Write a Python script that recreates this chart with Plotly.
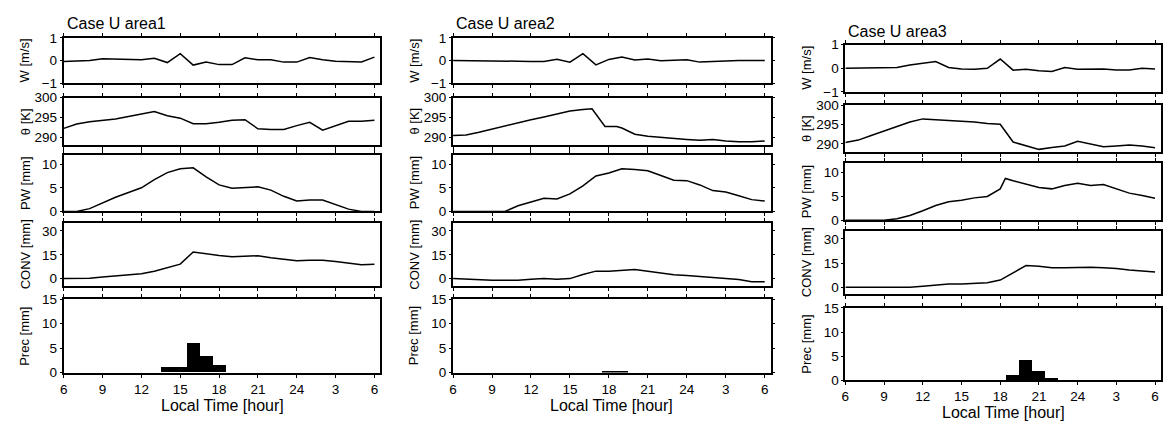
import plotly.graph_objects as go

# ---------------- data ----------------
HOURS = list(range(6, 31))
TICK_VALS = [6, 9, 12, 15, 18, 21, 24, 27, 30]
TICK_TEXT = ["6", "9", "12", "15", "18", "21", "24", "3", "6"]
CASE_TITLES = ["Case U area1", "Case U area2", "Case U area3"]
ROW_TITLES = ["W [m/s]", "θ [K]", "PW [mm]", "CONV [mm]", "Prec [mm]"]

# area1
A1_W = [-0.04, -0.02, 0.0, 0.08, 0.06, 0.04, 0.04, 0.1, -0.09, 0.3, -0.2, -0.07, -0.18,
        -0.18, 0.12, 0.03, 0.03, -0.07, -0.07, 0.13, 0.03, -0.03, -0.06, -0.06, 0.15]
A1_TH = [292.2, 293.3, 293.9, 294.25, 294.6, 295.2, 295.9, 296.5, 295.4, 294.8, 293.4, 293.4,
         293.75, 294.25, 294.4, 292.1, 291.9, 291.9, 292.9, 293.75, 291.75, 292.9, 294.0, 294.0, 294.25]
A1_PW = [0, 0, 0.6, 1.8, 3.0, 4.0, 5.0, 6.7, 8.2, 9.0, 9.2, 7.3, 5.6, 4.9, 5.1, 5.2, 4.5, 3.2,
         2.2, 2.4, 2.4, 1.5, 0.5, 0, 0]
A1_CONV = [0, 0, 0.3, 1.0, 1.6, 2.2, 3.0, 4.7, 6.7, 9.1, 16.8, 15.6, 14.6, 13.8, 14.2, 14.4,
           13.2, 12.2, 11.2, 11.6, 11.6, 10.8, 9.7, 8.7, 9.1]
A1_PREC = [0, 0, 0, 0, 0, 0, 0, 0, 1.1, 1.1, 6.0, 3.3, 1.5, 0, 0, 0, 0, 0, 0, 0, 0, 0, 0, 0, 0]

# area2
A2_W = [0, 0, -0.03, -0.03, -0.03, -0.03, -0.04, -0.04, 0.06, -0.07, 0.3, -0.19, 0.05, 0.16,
        0.02, 0.07, -0.01, 0.01, 0.03, -0.07, -0.04, 0, 0, 0, 0]
A2_TH_T = [6, 7, 8, 9, 10, 11, 12, 13, 14, 15, 16, 16.7, 17.7, 18.6, 19, 20, 21, 22, 23, 24,
           25, 26, 27, 28, 29, 30]
A2_TH = [290.4, 290.5, 291.2, 292.0, 292.9, 293.7, 294.4, 295.1, 295.9, 296.6, 297.0, 297.2,
         292.7, 292.7, 292.3, 290.7, 290.2, 289.9, 289.6, 289.4, 289.2, 289.4, 289.0, 288.8, 288.8, 289.0]
A2_PW = [0, 0, 0, 0, 0, 1.2, 2.0, 2.8, 2.65, 3.7, 5.4, 7.5, 8.1, 9.0, 8.85, 8.6, 7.6, 6.6, 6.5,
         5.6, 4.4, 4.1, 3.3, 2.5, 2.2]
A2_CONV = [0, -0.4, -1, -1, -1, -1, -0.4, 0, -0.4, 0, 2.6, 4.7, 4.7, 5.1, 5.7, 4.7, 3.4, 2.4,
           2.0, 1.4, 0.6, 0, -0.6, -2, -2]
A2_PREC = [0, 0, 0, 0, 0, 0, 0, 0, 0, 0, 0, 0, 0.3, 0.15, 0, 0, 0, 0, 0, 0, 0, 0, 0, 0, 0]

# area3
A3_W = [0, 0, 0, 0, 0.03, 0.14, 0.2, 0.28, 0.03, -0.03, -0.04, 0, 0.39, -0.08, -0.04, -0.11,
        -0.14, 0.03, -0.04, -0.03, -0.03, -0.07, -0.07, 0, -0.03]
A3_TH = [290.4, 291.0, 292.2, 293.4, 294.7, 295.7, 296.5, 296.3, 296.1, 295.9, 295.7, 295.3,
         295.1, 290.5, 289.5, 288.6, 289.1, 289.5, 290.7, 290.1, 289.3, 289.5, 289.7, 289.5, 289.05]
A3_PW_T = [6, 7, 8, 9, 10, 11, 12, 13, 14, 15, 16, 17, 18, 18.4, 19, 20, 21, 22, 23, 24, 25,
           26, 27, 28, 29, 30]
A3_PW = [0, 0, 0, 0, 0.3, 1.0, 2.0, 3.1, 3.9, 4.2, 4.7, 5.0, 6.6, 8.8, 8.3, 7.6, 6.9, 6.6, 7.3,
         7.8, 7.3, 7.5, 6.6, 5.7, 5.2, 4.6]
A3_CONV = [0, 0, 0, 0, 0, 0, 0.6, 1.4, 2.0, 2.0, 2.4, 2.8, 4.4, 9.0, 13.4, 13.0, 12.0, 12.0,
           12.4, 12.4, 12.0, 11.6, 10.6, 10.0, 9.4]
A3_PREC = [0, 0, 0, 0, 0, 0, 0, 0, 0, 0, 0, 0, 0, 1.1, 4.3, 1.9, 0.5, 0, 0, 0, 0, 0, 0, 0, 0]

COLUMNS = [
    [(HOURS, A1_W), (HOURS, A1_TH), (HOURS, A1_PW), (HOURS, A1_CONV), (HOURS, A1_PREC)],
    [(HOURS, A2_W), (A2_TH_T, A2_TH), (HOURS, A2_PW), (HOURS, A2_CONV), (HOURS, A2_PREC)],
    [(HOURS, A3_W), (HOURS, A3_TH), (A3_PW_T, A3_PW), (HOURS, A3_CONV), (HOURS, A3_PREC)],
]

# ---------------- layout geometry (pixels) ----------------
W, H = 1163, 423
COL_X = [(60, 378), (451, 770), (845, 1162)]
ROWS_Y = [
    [(32, 79), (94, 143), (153, 212), (224, 289), (303, 379)],
    [(32, 79), (94, 143), (153, 212), (224, 289), (303, 379)],
    [(39, 88), (102, 150), (162, 221), (232, 298), (312, 387)],
]
TITLE_Y = [17, 17, 25]
XTITLE_Y = [413, 413, 420]
Y_RANGES = [[-1, 1], [288, 300], [0, 12], [-4.5, 35], [0, 15]]
Y_TICKS = [[-1, 0, 1], [290, 295, 300], [0, 5, 10], [0, 15, 30], [0, 5, 10, 15]]
X_RANGE = [6, 30.46]

FONT = "Liberation Sans, Arial, Helvetica, sans-serif"
TICK_FONT = dict(size=13.5, family=FONT, color="black")

fig = go.Figure()
layout = dict(
    width=W, height=H, margin=dict(l=0, r=0, t=0, b=0),
    paper_bgcolor="white", plot_bgcolor="white", showlegend=False,
    font=dict(family=FONT, color="black", size=13),
)
annotations = []

for c in range(3):
    x0, x1 = COL_X[c]
    for r in range(5):
        i = c * 5 + r + 1
        xs, ys = COLUMNS[c][r]
        y0, y1 = ROWS_Y[c][r]
        xa = "x" if i == 1 else f"x{i}"
        ya = "y" if i == 1 else f"y{i}"
        if r == 4:
            fig.add_trace(go.Bar(x=xs, y=ys, width=1, marker=dict(color="black", line=dict(width=0)),
                                 xaxis=xa, yaxis=ya))
        else:
            fig.add_trace(go.Scatter(x=xs, y=ys, mode="lines", line=dict(color="black", width=1.5),
                                     xaxis=xa, yaxis=ya))
        key = "" if i == 1 else str(i)
        layout["xaxis" + key] = dict(
            domain=[x0 / W, x1 / W], range=X_RANGE, anchor=ya,
            tickmode="array", tickvals=TICK_VALS, ticktext=TICK_TEXT,
            showticklabels=(r == 4), ticks="outside", ticklen=3, tickwidth=1, tickcolor="black",
            mirror="ticks", showline=True, linewidth=2, linecolor="black",
            showgrid=False, zeroline=False, tickfont=TICK_FONT,
        )
        layout["yaxis" + key] = dict(
            domain=[1 - y1 / H, 1 - y0 / H], range=Y_RANGES[r], anchor=xa,
            tickmode="array", tickvals=Y_TICKS[r],
            ticks="outside", ticklen=2, tickwidth=1, tickcolor="black",
            mirror=("ticks" if c == 1 else True), showline=True, linewidth=2, linecolor="black",
            showgrid=False, zeroline=False, tickfont=TICK_FONT,
        )
        annotations.append(dict(
            text=ROW_TITLES[r], xref="paper", yref="paper",
            x=(x0 - 39) / W, y=1 - (y0 + y1) / 2 / H, textangle=-90,
            xanchor="center", yanchor="middle", showarrow=False,
            font=dict(size=13, family=FONT, color="black"),
        ))
    annotations.append(dict(
        text=CASE_TITLES[c], xref="paper", yref="paper", x=(x0 + 1) / W, y=1 - TITLE_Y[c] / H,
        xanchor="left", yanchor="middle", showarrow=False,
        font=dict(size=16, family=FONT, color="black"),
    ))
    annotations.append(dict(
        text="Local Time [hour]", xref="paper", yref="paper", x=(x0 + x1) / 2 / W,
        y=1 - XTITLE_Y[c] / H, xanchor="center", yanchor="middle", showarrow=False,
        font=dict(size=16, family=FONT, color="black"),
    ))

layout["annotations"] = annotations
layout["bargap"] = 0
fig.update_layout(**layout)
fig.write_html("out.html")
